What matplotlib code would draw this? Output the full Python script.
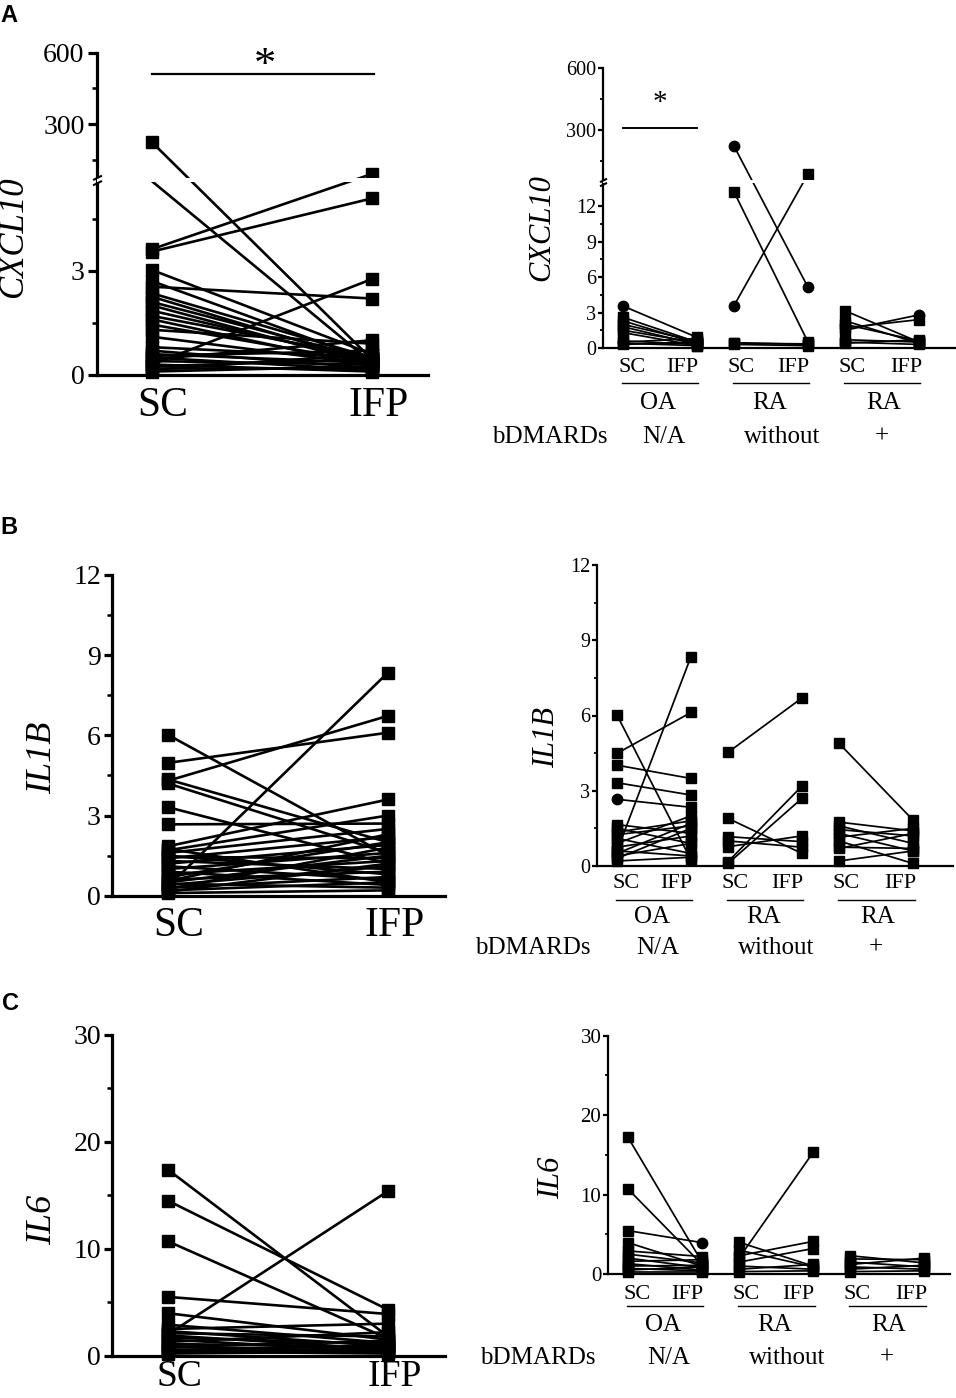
import numpy as np
import matplotlib
matplotlib.use("Agg")
import matplotlib.pyplot as plt
from matplotlib.path import Path
from matplotlib.transforms import blended_transform_factory

plt.rcParams['font.family'] = ['Liberation Serif', 'DejaVu Serif']

# ---------------- DATA ----------------
groups = ["OA", "RA", "RA"]
bdmards = ["N/A", "without", "+"]
sides = ["SC", "IFP"]

# CXCL10 - all patients (paired SC / IFP)
cxcl10_sc = [223, 13.2, 3.62, 3.55, 3.02, 2.54, 0.30, 2.70, 2.35, 2.25, 2.10, 2.00, 1.85, 1.70, 1.60,
             1.45, 1.30, 1.10, 0.80, 0.70, 0.60, 0.55, 0.50, 0.45, 0.40, 0.30, 0.25, 0.20, 0.15, 0.10]
cxcl10_ifp = [0.45, 0.35, 90, 5.08, 0.60, 2.20, 2.76, 0.40, 0.50, 0.35, 0.45, 0.30, 0.40, 0.50, 0.25,
              0.35, 0.90, 0.30, 0.50, 0.20, 0.35, 0.70, 0.15, 1.00, 0.30, 0.10, 0.45, 0.20, 0.60, 0.25]
# CXCL10 by group
cxcl10_oa_sc = [3.55, 2.60, 2.30, 2.00, 1.80, 1.50, 1.30, 0.60, 0.50, 0.40, 0.30]
cxcl10_oa_ifp = [0.90, 0.50, 0.40, 0.55, 0.30, 0.45, 0.20, 0.30, 0.80, 0.20, 0.50]
cxcl10_oa_mk = ['os', 'ss', 'ss', 'ss', 'ss', 'ss', 'ss', 'ss', 'os', 'ss', 'ss']
cxcl10_ra_sc = [222, 13.2, 3.58, 0.45, 0.40, 0.30]
cxcl10_ra_ifp = [5.13, 0.50, 86, 0.30, 0.35, 0.20]
cxcl10_ra_mk = ['oo', 'ss', 'os', 'ss', 'ss', 'ss']
cxcl10_rab_sc = [3.15, 2.30, 2.00, 1.50, 1.70, 0.70, 0.50, 0.40]
cxcl10_rab_ifp = [0.50, 0.40, 0.60, 2.80, 2.40, 0.50, 0.30, 0.70]
cxcl10_rab_mk = ['ss', 'ss', 'ss', 'so', 'ss', 'ss', 'ss', 'ss']

# IL1B - all patients
il1b_sc = [6.02, 4.97, 4.30, 4.35, 4.20, 3.31, 2.67, 0.35, 1.85, 1.70, 1.60, 1.50, 1.40, 1.30, 1.20, 1.10,
           1.00, 0.90, 0.80, 0.70, 0.60, 0.50, 0.45, 0.40, 0.30, 0.25, 0.20, 0.15, 0.10, 1.75, 1.45, 0.55]
il1b_ifp = [1.50, 6.10, 6.73, 2.00, 1.60, 1.20, 2.70, 8.35, 3.60, 3.00, 2.50, 0.80, 2.20, 1.00, 1.90, 0.60,
            1.60, 0.40, 1.30, 2.00, 0.90, 1.50, 0.30, 1.10, 0.70, 1.80, 0.50, 1.20, 0.20, 0.50, 1.40, 2.30]
# IL1B by group
il1b_oa_sc = [6.02, 4.49, 4.02, 3.32, 2.66, 0.60, 1.65, 1.50, 1.35, 1.25, 1.10, 0.90, 0.75, 0.60, 0.50, 0.40, 0.30, 0.20]
il1b_oa_ifp = [0.24, 6.12, 3.49, 2.83, 2.34, 8.35, 1.30, 0.90, 1.80, 1.60, 0.50, 2.00, 1.20, 0.40, 1.70, 0.90, 1.50, 0.35]
il1b_oa_mk = ['ss', 'ss', 'ss', 'ss', 'os', 'ss', 'ss', 'ss', 'ss', 'ss', 'ss', 'ss', 'ss', 'ss', 'ss', 'ss', 'ss', 'ss']
il1b_ra_sc = [4.53, 1.90, 1.17, 0.77, 0.17, 0.10, 1.00]
il1b_ra_ifp = [6.70, 0.50, 0.97, 1.20, 3.19, 2.70, 0.75]
il1b_ra_mk = ['ss'] * 7
il1b_rab_sc = [4.89, 1.75, 1.60, 1.45, 1.30, 1.15, 1.00, 0.75, 0.70, 0.20]
il1b_rab_ifp = [1.83, 1.40, 0.90, 1.20, 0.60, 1.50, 0.10, 0.70, 1.30, 0.60]
il1b_rab_mk = ['ss'] * 10

# IL6 - all patients
il6_sc = [17.4, 14.5, 10.7, 2.0, 5.5, 3.97, 2.5, 2.9, 2.3, 2.1, 1.9, 1.7, 1.5, 1.3, 1.1, 0.9, 0.8, 0.6, 0.5, 0.4, 0.3, 0.2]
il6_ifp = [1.8, 4.3, 1.6, 15.4, 3.9, 1.5, 3.0, 1.2, 0.9, 1.8, 0.6, 1.1, 0.4, 2.2, 0.8, 0.3, 1.4, 0.6, 1.0, 0.2, 0.7, 0.4]
# IL6 by group
il6_oa_sc = [17.2, 10.7, 5.46, 3.95, 2.9, 2.5, 2.0, 1.6, 1.3, 1.0, 0.7, 0.5, 0.3]
il6_oa_ifp = [1.5, 1.2, 3.95, 1.0, 2.2, 1.4, 0.8, 1.8, 0.5, 1.1, 0.4, 0.9, 0.3]
il6_oa_mk = ['ss', 'ss', 'so', 'ss', 'ss', 'ss', 'ss', 'ss', 'ss', 'ss', 'ss', 'ss', 'ss']
il6_ra_sc = [2.0, 4.0, 2.3, 1.5, 1.0, 0.6, 0.3, 3.0]
il6_ra_ifp = [15.3, 1.0, 4.1, 3.2, 0.6, 1.2, 0.4, 0.9]
il6_ra_mk = ['ss'] * 8
il6_rab_sc = [2.3, 1.9, 1.5, 1.2, 0.9, 0.6, 0.3]
il6_rab_ifp = [1.4, 1.8, 0.9, 2.0, 0.6, 1.1, 0.4]
il6_rab_mk = ['ss'] * 7

# ---------------- LAYOUT ----------------
W, H = 956, 1398
fig = plt.figure(figsize=(W / 100, H / 100), dpi=100)
fig.patch.set_facecolor('white')


def add_ax(x0, x1, ytop, ybot):
    return fig.add_axes([x0 / W, 1 - ybot / H, (x1 - x0) / W, (ybot - ytop) / H])


def ftext(x, y, s, **kw):
    fig.text(x / W, 1 - y / H, s, **kw)


def break_scale(L, U, s_lo, s_hi, g):
    pL = L * s_lo
    pU = pL + g

    def fwd(y):
        y = np.asarray(y, dtype=float)
        lo = y * s_lo
        mid = pL + (y - L) / (U - L) * g
        hi = pU + (y - U) * s_hi
        return np.where(y <= L, lo, np.where(y >= U, hi, mid))

    def inv(p):
        p = np.asarray(p, dtype=float)
        lo = p / s_lo
        mid = L + (p - pL) / g * (U - L)
        hi = U + (p - pU) / s_hi
        return np.where(p <= pL, lo, np.where(p >= pU, hi, mid))
    return fwd, inv


def style(ax, spine_w, tick_fs, maj_len, min_len, pad):
    for s in ['top', 'right']:
        ax.spines[s].set_visible(False)
    for s in ['left', 'bottom']:
        ax.spines[s].set_linewidth(spine_w)
        ax.spines[s].set_capstyle('projecting')
    ax.tick_params(axis='y', which='major', length=maj_len, width=spine_w, labelsize=tick_fs, pad=pad)
    ax.tick_params(axis='y', which='minor', length=min_len, width=spine_w * 0.8)
    ax.set_facecolor('none')


def draw_pairs(ax, xs, xi, sc, ifp, mk, ms, lw, hide=None):
    for i, (a, b) in enumerate(zip(sc, ifp)):
        ax.plot([xs, xi], [a, b], color='k', lw=lw, zorder=2, solid_capstyle='butt')
        m = mk[i] if mk is not None else 'ss'
        for x, v, mm in ((xs, a, m[0]), (xi, b, m[1])):
            if hide is not None and hide(v):
                continue
            ax.plot([x], [v], ls='none', marker=mm, ms=ms * (1.15 if mm == 'o' else 1.0),
                    color='k', mec='k', zorder=3, clip_on=False)


slash = Path([(-1, -1.1), (1, -0.1), (-1, 0.1), (1, 1.1)],
             [Path.MOVETO, Path.LINETO, Path.MOVETO, Path.LINETO])


def add_break(ax, L, U, ms):
    ax.axhspan(L, U, color='white', zorder=4, lw=0)
    tr = blended_transform_factory(ax.transAxes, ax.transData)
    ax.plot([0], [(L + U) / 2], transform=tr, marker=slash, ms=ms, mew=1.5, color='k',
            fillstyle='none', ls='none', zorder=5, clip_on=False)


# --- left (pooled) panels ---
def left_panel(ax, sc, ifp, xlim, pad_x, fs_x=30, hide=None):
    draw_pairs(ax, 0, 1, sc, ifp, None, 8.5, 1.9, hide)
    ax.set_xlim(*xlim)
    ax.set_xticks([0.05, 1.03], sides)
    ax.tick_params(axis='x', length=0, labelsize=fs_x, pad=pad_x)


# --- right (grouped) panels ---
pos = [(0.0, 1.0), (1.5, 2.5), (3.0, 4.0)]
lab_x = [0.12, 0.8, 1.6, 2.3, 3.1, 3.83]
grp_x = [0.47, 1.98, 3.52]
bd_x = [0.55, 2.15, 3.5]


def right_panel(ax, data, xlim, pad_x, y_under, y_grp, y_bd, x_bd, hide=None):
    for (xs, xi), (sc, ifp, mk) in zip(pos, data):
        draw_pairs(ax, xs, xi, sc, ifp, mk, 6.5, 1.25, hide)
    ax.set_xlim(*xlim)
    ax.set_xticks(lab_x, sides * 3)
    ax.tick_params(axis='x', length=0, labelsize=16, pad=pad_x)
    tr = blended_transform_factory(ax.transData, fig.transFigure)
    for (xs, xi), gx, g, bx, b in zip(pos, grp_x, groups, bd_x, bdmards):
        ax.plot([xs - 0.02, xi + 0.02], [1 - y_under / H] * 2, transform=tr, color='k', lw=1.0, clip_on=False)
        ax.text(gx, 1 - y_grp / H, g, transform=tr, ha='center', va='center', fontsize=18)
        ax.text(bx, 1 - y_bd / H, b, transform=tr, ha='center', va='center', fontsize=18)
    ftext(x_bd, y_bd, "bDMARDs", ha='center', va='center', fontsize=18)


# ================= Panel A =================
# left A: broken axis 0..5.56 | 74..600
LA, UA = 5.56, 74.1
axA = add_ax(97, 428, 52.7, 375)
fA = break_scale(LA, UA, 34.77, 0.2377, 4.0)
axA.set_yscale('function', functions=fA)
axA.set_ylim(0, 600)
style(axA, 2.3, 20, 6.5, 3.5, 2.5)
axA.set_yticks([0, 3, 300, 600], ['0', '3', '300', '600'])
axA.set_yticks([1.5, 4.5, 150, 450], minor=True)
left_panel(axA, cxcl10_sc, cxcl10_ifp, (-0.25, 1.2545), 8, hide=lambda v: LA < v < UA)
add_break(axA, LA, UA, 7)
axA.plot([0, 1.01], [510, 510], color='k', lw=1.6, clip_on=False)
axA.text(0.515, 545, '*', ha='center', va='center', fontsize=32)
ftext(14, 237, 'CXCL10', rotation=90, ha='center', va='center', fontsize=25, style='italic')
ftext(0, 16, 'A', ha='left', va='center', fontsize=17, fontweight='bold', family='Liberation Sans')

# right A: broken axis 0..13.92 | 55.5..600
LB, UB = 13.92, 55.5
axA2 = add_ax(603, 956, 68.3, 348)
fA2 = break_scale(LB, UB, 11.83, 0.2057, 3.0)
axA2.set_yscale('function', functions=fA2)
axA2.set_ylim(0, 600)
style(axA2, 1.6, 14.5, 3.8, 2.2, 1)
axA2.set_yticks([0, 3, 6, 9, 12, 300, 600], ['0', '3', '6', '9', '12', '300', '600'])
axA2.set_yticks([1.5, 4.5, 7.5, 10.5, 150, 450], minor=True)
right_panel(axA2, [(cxcl10_oa_sc, cxcl10_oa_ifp, cxcl10_oa_mk),
                   (cxcl10_ra_sc, cxcl10_ra_ifp, cxcl10_ra_mk),
                   (cxcl10_rab_sc, cxcl10_rab_ifp, cxcl10_rab_mk)],
            (-0.27, 4.5), 7, 383.3, 402.7, 436.7, 550, hide=lambda v: LB < v < UB)
add_break(axA2, LB, UB, 5.5)
axA2.plot([0, 1.0], [311, 311], color='k', lw=1.4, clip_on=False)
axA2.text(0.5, 430, '*', ha='center', va='center', fontsize=21)
ftext(542, 228, 'CXCL10', rotation=90, ha='center', va='center', fontsize=22, style='italic')

# ================= Panel B =================
axB = add_ax(112, 445, 575, 895.7)
axB.set_ylim(0, 12)
style(axB, 2.3, 20, 5.5, 3.5, 2.5)
axB.set_yticks([0, 3, 6, 9, 12])
axB.set_yticks([1.5, 4.5, 7.5, 10.5], minor=True)
left_panel(axB, il1b_sc, il1b_ifp, (-0.2545, 1.259), 8)
ftext(43, 758, 'IL1B', rotation=90, ha='center', va='center', fontsize=26, style='italic')
ftext(0, 527, 'B', ha='left', va='center', fontsize=17, fontweight='bold', family='Liberation Sans')

axB2 = add_ax(597, 953, 565, 866)
axB2.set_ylim(0, 12)
style(axB2, 1.6, 14.5, 3.8, 2.2, 1)
axB2.set_yticks([0, 3, 6, 9, 12])
axB2.set_yticks([1.5, 4.5, 7.5, 10.5], minor=True)
right_panel(axB2, [(il1b_oa_sc, il1b_oa_ifp, il1b_oa_mk),
                   (il1b_ra_sc, il1b_ra_ifp, il1b_ra_mk),
                   (il1b_rab_sc, il1b_rab_ifp, il1b_rab_mk)],
            (-0.27, 4.54), 6, 900, 917, 948, 533)
ftext(547, 738, 'IL1B', rotation=90, ha='center', va='center', fontsize=22, style='italic')

# ================= Panel C =================
axC = add_ax(112, 445, 1035, 1355.7)
axC.set_ylim(0, 30)
style(axC, 2.3, 20, 5.5, 3.5, 2.5)
axC.set_yticks([0, 10, 20, 30])
axC.set_yticks([5, 15, 25], minor=True)
left_panel(axC, il6_sc, il6_ifp, (-0.2545, 1.259), 3, fs_x=27)
ftext(43, 1220, 'IL6', rotation=90, ha='center', va='center', fontsize=26, style='italic')
ftext(2, 1003, 'C', ha='left', va='center', fontsize=17, fontweight='bold', family='Liberation Sans')

axC2 = add_ax(608, 950, 1035.7, 1274)
axC2.set_ylim(0, 30)
style(axC2, 1.6, 15, 3.8, 2.2, 1)
axC2.set_yticks([0, 10, 20, 30])
axC2.set_yticks([5, 15, 25], minor=True)
right_panel(axC2, [(il6_oa_sc, il6_oa_ifp, il6_oa_mk),
                   (il6_ra_sc, il6_ra_ifp, il6_ra_mk),
                   (il6_rab_sc, il6_rab_ifp, il6_rab_mk)],
            (-0.27, 4.35), 8, 1306, 1325, 1358, 538)
ftext(552, 1178, 'IL6', rotation=90, ha='center', va='center', fontsize=22, style='italic')

fig.savefig('out.png', dpi=100)
